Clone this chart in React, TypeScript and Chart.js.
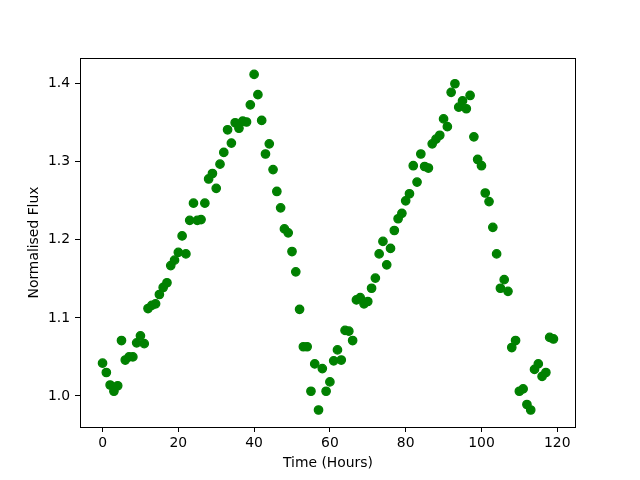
import React, { useEffect, useRef } from "react";
import { Chart, registerables } from "chart.js";

Chart.register(...registerables);

const hours: number[] = [
  0, 1, 2, 3, 4, 5, 6, 7, 8, 9, 10, 11, 12, 13, 14, 15, 16, 17, 18, 19,
  20, 21, 22, 23, 24, 25, 26, 27, 28, 29, 30, 31, 32, 33, 34, 35, 36, 37, 38, 39,
  40, 41, 42, 43, 44, 45, 46, 47, 48, 49, 50, 51, 52, 53, 54, 55, 56, 57, 58, 59,
  60, 61, 62, 63, 64, 65, 66, 67, 68, 69, 70, 71, 72, 73, 74, 75, 76, 77, 78, 79,
  80, 81, 82, 83, 84, 85, 86, 87, 88, 89, 90, 91, 92, 93, 94, 95, 96, 97, 98, 99,
  100, 101, 102, 103, 104, 105, 106, 107, 108, 109, 110, 111, 112, 113, 114, 115, 116, 117, 118, 119,
];

const flux: number[] = [
  1.042, 1.030, 1.014, 1.006, 1.013, 1.071, 1.046, 1.050, 1.050, 1.068,
  1.077, 1.067, 1.112, 1.116, 1.118, 1.130, 1.139, 1.145, 1.167, 1.174,
  1.184, 1.205, 1.182, 1.225, 1.247, 1.225, 1.226, 1.247, 1.278, 1.285,
  1.266, 1.297, 1.312, 1.341, 1.324, 1.350, 1.343, 1.352, 1.351, 1.373,
  1.412, 1.386, 1.353, 1.310, 1.323, 1.290, 1.262, 1.241, 1.214, 1.209,
  1.185, 1.159, 1.111, 1.063, 1.063, 1.006, 1.041, 0.982, 1.035, 1.006,
  1.018, 1.045, 1.059, 1.046, 1.084, 1.083, 1.071, 1.123, 1.126, 1.118,
  1.121, 1.138, 1.151, 1.182, 1.198, 1.168, 1.189, 1.212, 1.227, 1.234,
  1.250, 1.259, 1.295, 1.274, 1.310, 1.294, 1.292, 1.323, 1.329, 1.334,
  1.355, 1.345, 1.389, 1.400, 1.370, 1.378, 1.368, 1.385, 1.332, 1.303,
  1.295, 1.260, 1.249, 1.216, 1.182, 1.138, 1.149, 1.134, 1.062, 1.071,
  1.006, 1.009, 0.989, 0.982, 1.034, 1.041, 1.025, 1.030, 1.075, 1.073,
];

const xTicks: number[] = [0, 20, 40, 60, 80, 100, 120];
const yTicks: number[] = [1.0, 1.1, 1.2, 1.3, 1.4];

const X_MIN = -5.95;
const X_MAX = 124.95;
const Y_MIN = 0.9602;
const Y_MAX = 1.433;

const FONT = "'DejaVu Sans', sans-serif";

const framePlugin = {
  id: "frame",
  afterDraw(chart: any) {
    const { ctx, chartArea } = chart;
    ctx.save();
    ctx.strokeStyle = "#000";
    ctx.lineWidth = 1;
    ctx.strokeRect(
      Math.round(chartArea.left) + 0.5,
      Math.round(chartArea.top) + 0.5,
      Math.round(chartArea.right - chartArea.left) - 1,
      Math.round(chartArea.bottom - chartArea.top)
    );
    ctx.restore();
  },
};

export default function App() {
  const ref = useRef<HTMLCanvasElement>(null);

  useEffect(() => {
    if (!ref.current) return;
    const points = hours.map((h, i) => ({ x: h, y: flux[i] }));
    const chart = new Chart(ref.current, {
      type: "scatter",
      data: {
        datasets: [
          {
            data: points,
            backgroundColor: "#008000",
            borderColor: "#008000",
            borderWidth: 1.3,
            pointRadius: 4.2,
          },
        ],
      },
      options: {
        animation: false,
        responsive: false,
        maintainAspectRatio: false,
        layout: { padding: { left: 0, right: 64, top: 58, bottom: 0 } },
        plugins: {
          legend: { display: false },
          tooltip: { enabled: false },
        },
        scales: {
          x: {
            type: "linear",
            min: X_MIN,
            max: X_MAX,
            afterFit(scale: any) {
              scale.height = 53;
            },
            afterBuildTicks(scale: any) {
              scale.ticks = xTicks.map((v) => ({ value: v }));
            },
            border: { display: false },
            grid: {
              drawOnChartArea: false,
              drawTicks: true,
              tickLength: 5,
              tickColor: "#000",
              tickWidth: 1,
            },
            ticks: {
              color: "#000",
              padding: 3,
              maxRotation: 0,
              font: { family: FONT, size: 13.9 },
              callback: (v: any) => String(v),
            },
            title: {
              display: true,
              text: "Time (Hours)",
              color: "#000",
              font: { family: FONT, size: 13.9 },
              padding: { top: 0, bottom: 8.4 },
            },
          },
          y: {
            type: "linear",
            min: Y_MIN,
            max: Y_MAX,
            afterFit(scale: any) {
              scale.width = 80;
            },
            afterBuildTicks(scale: any) {
              scale.ticks = yTicks.map((v) => ({ value: v }));
            },
            border: { display: false },
            grid: {
              drawOnChartArea: false,
              drawTicks: true,
              tickLength: 5,
              tickColor: "#000",
              tickWidth: 1,
            },
            ticks: {
              color: "#000",
              padding: 5,
              font: { family: FONT, size: 13.9 },
              callback: (v: any) => Number(v).toFixed(1),
            },
            title: {
              display: true,
              text: "Normalised Flux",
              color: "#000",
              font: { family: FONT, size: 13.9 },
              padding: { top: 26.3, bottom: 0 },
            },
          },
        },
      },
      plugins: [framePlugin],
    });
    return () => chart.destroy();
  }, []);

  return (
    <div style={{ position: "absolute", left: 0, top: 0, width: 640, height: 480, background: "#fff" }}>
      <canvas ref={ref} width={640} height={480} />
    </div>
  );
}
